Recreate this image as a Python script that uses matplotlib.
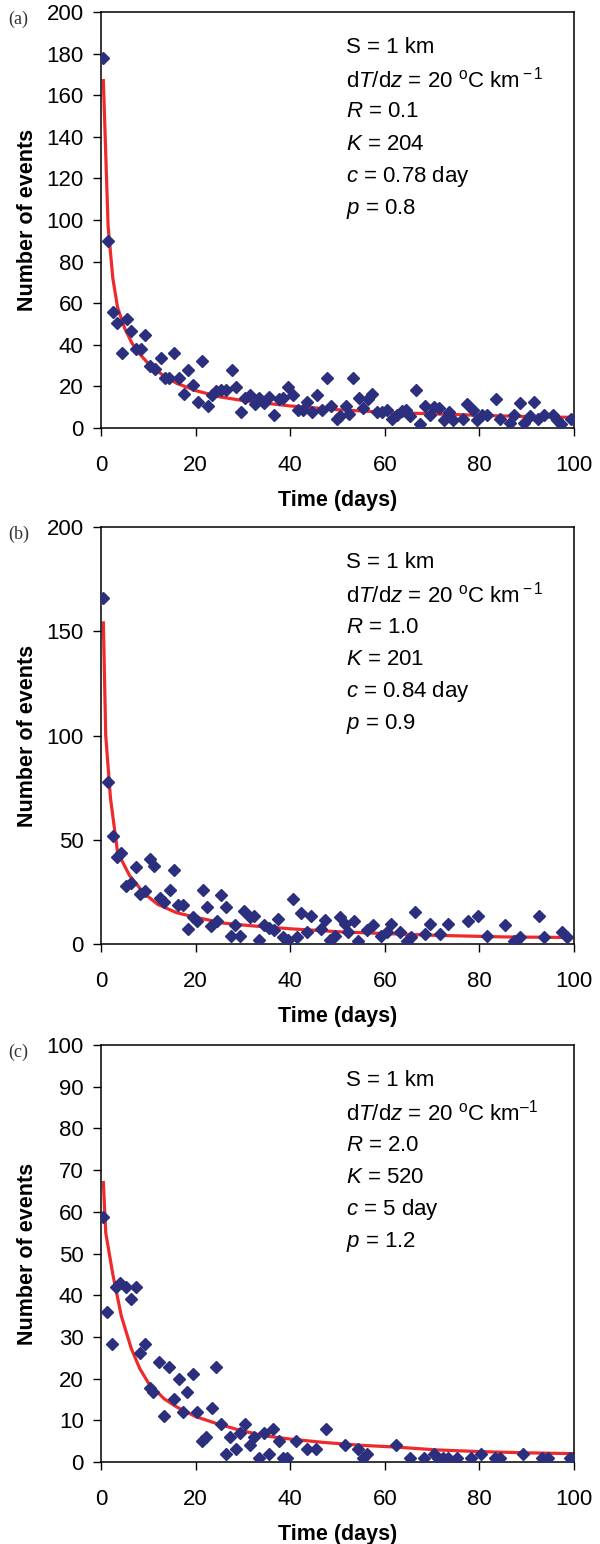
import numpy as np
import matplotlib
matplotlib.use('Agg')
import matplotlib.pyplot as plt

plt.rcParams['font.family'] = ['Liberation Sans', 'DejaVu Sans']
plt.rcParams['mathtext.fontset'] = 'custom'
plt.rcParams['mathtext.rm'] = 'Liberation Sans'
plt.rcParams['mathtext.it'] = 'Liberation Sans:italic'

# ---- panel (a) data ----
days_a = [0.35, 1.4, 2.5, 3.4, 4.4, 5.5, 6.4, 7.4, 8.5, 9.4, 10.4, 11.5, 12.6, 13.5, 14.4,
          15.5, 16.5, 17.6, 18.4, 19.4, 20.6, 21.4, 22.6, 23.4, 24.3, 25.3, 26.4, 27.7, 28.5,
          29.7, 30.5, 31.4, 32.6, 33.5, 34.5, 35.6, 36.5, 37.6, 38.5, 39.6, 40.6, 41.6, 42.7,
          43.6, 44.7, 45.7, 46.8, 47.7, 48.6, 49.8, 50.6, 51.8, 52.5, 53.3, 54.5, 55.4, 56.5,
          57.3, 58.4, 59.4, 60.4, 61.5, 62.5, 63.6, 64.5, 65.3, 66.5, 67.4, 68.6, 69.5, 70.3,
          71.5, 72.5, 73.6, 74.5, 76.5, 77.3, 78.6, 79.4, 80.6, 81.6, 83.5, 84.4, 86.5, 87.4,
          88.6, 89.5, 90.6, 91.5, 92.4, 93.6, 95.5, 96.4, 97.2, 99.4]
events_a = [178, 90, 56, 50.5, 36, 52.5, 46.5, 38, 38, 44.7, 30, 28.5, 33.8, 24, 24,
            36, 24, 16.5, 28, 20.5, 12.5, 32, 10.4, 15.7, 17.6, 18.1, 18.1, 28, 19.7,
            7.7, 14.6, 15.7, 11.7, 14.4, 12, 14.9, 6.4, 14.1, 14.6, 19.7, 15.7, 8.5, 8.5,
            12.5, 7.7, 15.7, 8.5, 24, 10.4, 4.5, 5.6, 10.4, 6.9, 24, 14.6, 9.8, 13.8,
            16.5, 7.7, 7.7, 8.5, 4.5, 6.1, 8, 8.5, 5.6, 18.5, 1.8, 10.6, 6.4, 10.1,
            9.8, 3.7, 7.7, 3.7, 4.5, 11.7, 8.5, 3.7, 6.4, 6.4, 13.8, 4.5, 2.4, 6.4,
            11.9, 2.4, 5.8, 12.5, 4.5, 6.1, 6.1, 3.7, 1.8, 4.5]
fit_t_a = [0.5, 1.5, 2.5, 3.5, 5, 6.5, 8, 10, 13, 16, 20, 25, 30, 40, 50, 60, 70, 80, 90, 100]
fit_n_a = [167, 97, 72, 58, 48, 41, 36, 31, 25.5, 21.5, 18, 15, 13.2, 10.6, 8.8, 7.6, 6.8, 6.1, 5.5, 5.1]

# ---- panel (b) data ----
days_b = [0.35, 1.4, 2.5, 3.4, 4.2, 5.3, 6.4, 7.5, 8.3, 9.3, 10.4, 11.3, 12.4, 13.3, 14.5,
          15.4, 16.2, 17.4, 18.3, 19.5, 20.4, 21.5, 22.4, 23.3, 24.5, 25.4, 26.5, 27.4, 28.3,
          29.4, 30.3, 31.4, 32.4, 33.5, 34.4, 35.5, 36.5, 37.4, 38.5, 39.5, 40.5, 41.5, 42.3,
          43.6, 44.4, 46.5, 47.4, 48.5, 49.4, 50.5, 51.5, 52.3, 53.5, 54.4, 56.3, 57.5, 59.3,
          60.4, 61.3, 63.3, 64.6, 65.5, 66.4, 68.5, 69.6, 71.7, 73.3, 77.5, 79.6, 81.6, 85.4,
          87.4, 88.6, 92.5, 93.6, 97.5, 98.5]
events_b = [166, 77.5, 51.6, 41.7, 43.6, 28, 29.2, 36.9, 24, 25.6, 41, 37.5, 22, 20, 25.7,
            35.6, 18.8, 18.8, 7.2, 12.9, 10.9, 25.7, 17.7, 8.8, 10.9, 23.6, 17.7, 3.7, 8.9,
            3.7, 15.7, 12.9, 13.6, 1.8, 9.3, 7.7, 6.9, 12, 3.4, 1.8, 21.7, 3.4, 14.9,
            5.6, 13.6, 7.2, 11.7, 1.8, 3.7, 12.9, 9.7, 5.6, 11.2, 1.6, 6.9, 9.2, 3.7,
            5.6, 9.7, 5.7, 1.6, 3.3, 15.2, 4.9, 9.7, 4.9, 9.7, 11.2, 13.2, 3.7, 9.1,
            1.6, 3.3, 13.2, 3.2, 5.7, 3.2]
fit_t_b = [0.5, 1, 2, 3.5, 6, 9, 12, 16, 20, 26, 32, 40, 50, 60, 70, 85, 100]
fit_n_b = [154, 100, 70, 44, 33, 24.5, 19, 15, 12.8, 10, 8.7, 7.3, 5.9, 5.0, 4.2, 3.4, 3.1]

# ---- panel (c) data ----
days_c = [0.36, 1.2, 2.3, 3.2, 4.1, 5.3, 6.3, 7.5, 8.3, 9.4, 10.3, 11.0, 12.3, 13.3, 14.4,
          15.4, 16.5, 17.4, 18.2, 19.4, 20.4, 21.4, 22.3, 23.5, 24.3, 25.3, 26.4, 27.3, 28.5,
          29.4, 30.5, 31.4, 32.3, 33.5, 34.4, 35.6, 36.4, 37.6, 38.4, 39.4, 41.3, 43.5, 45.5,
          47.5, 51.6, 54.4, 55.3, 56.3, 62.3, 65.3, 68.3, 70.4, 71.3, 72.4, 73.3, 75.3, 78.3,
          80.3, 83.3, 84.4, 89.3, 93.3, 94.4, 99.2]
events_c = [58.8, 36, 28.2, 42, 43, 42, 39, 42, 26.2, 28.2, 17.8, 16.8, 23.9, 11, 22.8,
            15, 19.8, 12, 16.8, 21, 12, 5, 6, 13, 22.8, 9, 2, 6, 3,
            7, 9, 4, 6, 1, 7, 2, 8, 5, 1, 1, 5, 3, 3,
            8, 4, 3, 1, 2, 4, 1, 1, 2, 1, 1, 1, 1, 1,
            2, 1, 1, 2, 1, 1, 1]
fit_t_c = [0.5, 1, 2.5, 4.3, 6.4, 8.2, 10, 13.3, 16, 20, 24.5, 29.4, 34.4, 40, 47, 55, 62, 71, 80, 90, 100]
fit_n_c = [67, 55, 45, 35, 27.2, 22.4, 19, 15.2, 13.2, 10.9, 9.2, 7.6, 6.3, 5.5, 4.7, 4.0, 3.6, 2.9, 2.5, 2.2, 2.0]

panel_tags = ['(a)', '(b)', '(c)']
y_limits = [200, 200, 100]
y_steps = [20, 50, 10]
x_ticks = [0, 20, 40, 60, 80, 100]
grad_line = r'd$\mathit{T}$/d$\mathit{z}$ = 20 $^{\rm o}$C km'
param_lines = [
    ['S = 1 km', grad_line + r'$^{\rm -1}$',
     r'$\mathit{R}$ = 0.1', r'$\mathit{K}$ = 204', r'$\mathit{c}$ = 0.78 day', r'$\mathit{p}$ = 0.8'],
    ['S = 1 km', grad_line + r'$^{\rm -1}$',
     r'$\mathit{R}$ = 1.0', r'$\mathit{K}$ = 201', r'$\mathit{c}$ = 0.84 day', r'$\mathit{p}$ = 0.9'],
    ['S = 1 km', grad_line + '$^{\\rm \u20131}$',
     r'$\mathit{R}$ = 2.0', r'$\mathit{K}$ = 520', r'$\mathit{c}$ = 5 day', r'$\mathit{p}$ = 1.2'],
]

all_days = [days_a, days_b, days_c]
all_events = [events_a, events_b, events_c]
all_fit_t = [fit_t_a, fit_t_b, fit_t_c]
all_fit_n = [fit_n_a, fit_n_b, fit_n_c]

W, H = 600, 1544
fig = plt.figure(figsize=(W / 100, H / 100), dpi=100)

# axes boxes in pixels: left, top, right, bottom
boxes = [(101, 12, 574, 428), (101, 527, 574, 944), (101, 1045, 574, 1462)]

marker_color = '#2B2F7E'
line_color = '#EE2A2A'

for i in range(3):
    l, t, r, b = boxes[i]
    ax = fig.add_axes([l / W, (H - b) / H, (r - l) / W, (b - t) / H])
    ax.plot(all_fit_t[i], all_fit_n[i], color=line_color, lw=2.3, zorder=2)
    ax.plot(all_days[i], all_events[i], 'D', color=marker_color, ms=5.8, mec=marker_color, zorder=3)
    ax.set_xlim(0, 100)
    ax.set_ylim(0, y_limits[i])
    ax.set_xticks(x_ticks)
    ax.set_yticks(np.arange(0, y_limits[i] + 1, y_steps[i]))
    ax.tick_params(direction='out', length=5.5, width=1.0, labelsize=16)
    ax.tick_params(axis='x', pad=14)
    ax.tick_params(axis='y', pad=7)
    for s in ax.spines.values():
        s.set_linewidth(1.1)
    ax.set_xlabel('Time (days)', fontsize=15.5, fontweight='bold', labelpad=10)
    ax.set_ylabel('Number of events', fontsize=15.5, fontweight='bold', labelpad=6)
    for k, txt in enumerate(param_lines[i]):
        ax.text(0.518, 0.915 - k * 0.0775, txt, transform=ax.transAxes, fontsize=16,
                ha='left', va='center')
    fig.text(8 / W, 1 - (t + 7) / H, panel_tags[i], fontsize=13, family='Liberation Serif',
             color='#333333', ha='left', va='center')

fig.savefig('out.png', dpi=100)
